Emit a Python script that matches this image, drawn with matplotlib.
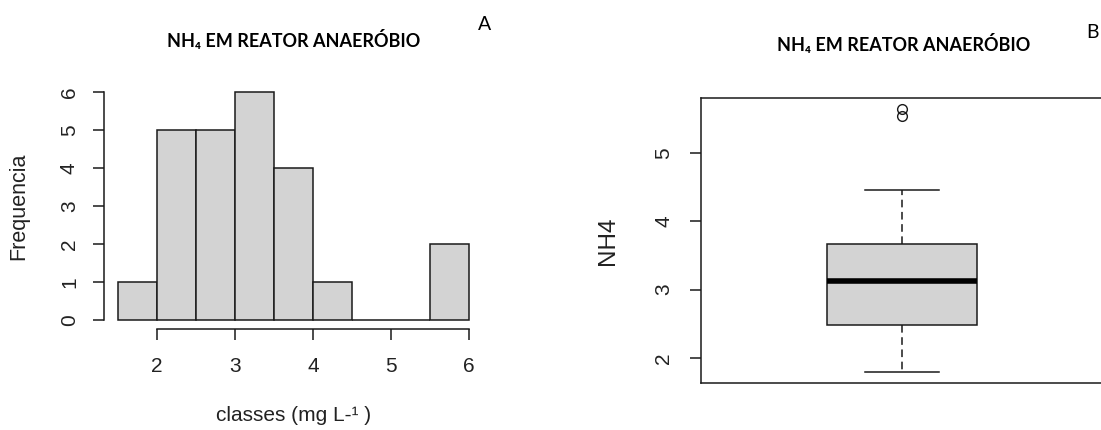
import matplotlib
matplotlib.use("Agg")
import matplotlib.pyplot as plt
import numpy as np

# --- data -------------------------------------------------------------
bin_edges = [1.5, 2.0, 2.5, 3.0, 3.5, 4.0, 4.5, 5.0, 5.5, 6.0]
bin_counts = [1, 5, 5, 6, 4, 1, 0, 0, 2]
hist_xticks = [2, 3, 4, 5, 6]
hist_yticks = [0, 1, 2, 3, 4, 5, 6]

box_whislo = 1.79
box_q1 = 2.49
box_med = 3.12
box_q3 = 3.66
box_whishi = 4.46
box_fliers = [5.54, 5.64]
box_yticks = [2, 3, 4, 5]

title_text = "NH\u2084 EM REATOR ANAERÓBIO"

# --- styling ------------------------------------------------------------
W, H = 1101, 430
fig = plt.figure(figsize=(W / 100, H / 100), dpi=100)
axis_font = ["Liberation Sans", "DejaVu Sans"]
title_font = ["Lato", "Noto Sans", "DejaVu Sans"]
fs = 15
fill = "#D3D3D3"
ink = "#1a1a1a"
text_col = "#222222"


def px_axes(left, right, top, bottom):
    return fig.add_axes([left / W, 1 - bottom / H, (right - left) / W, (bottom - top) / H])


def style_ticks(ax):
    ax.tick_params(direction="out", length=8, width=1.1, color=ink,
                   labelsize=fs, labelcolor=text_col)
    for lab in ax.get_xticklabels() + ax.get_yticklabels():
        lab.set_family(axis_font)
    for lab in ax.get_yticklabels():
        lab.set_rotation(90)
        lab.set_va("center")


# --- histogram --------------------------------------------------------
ax1 = px_axes(104, 483, 83, 329)
lefts = np.array(bin_edges[:-1])
widths = np.diff(bin_edges)
ax1.bar(lefts, bin_counts, width=widths, align="edge", color=fill,
        edgecolor=ink, linewidth=1.1)
ax1.set_xlim(1.32, 6.18)
ax1.set_ylim(-0.24, 6.24)
for s in ("top", "right"):
    ax1.spines[s].set_visible(False)
ax1.spines["left"].set_bounds(0, 6)
ax1.spines["bottom"].set_bounds(2, 6)
for s in ("left", "bottom"):
    ax1.spines[s].set_linewidth(1.1)
    ax1.spines[s].set_color(ink)
ax1.set_xticks(hist_xticks)
ax1.set_yticks(hist_yticks)
style_ticks(ax1)
ax1.tick_params(axis="x", pad=12)
ax1.tick_params(axis="y", pad=10)
ax1.set_ylabel("Frequencia", fontsize=15.5, family=axis_font, color=text_col)
ax1.yaxis.set_label_coords(-0.224, 0.5)
ax1.yaxis.label.set_va("center")
ax1.set_xlabel("classes (mg L-\u00b9 )", fontsize=15, family=axis_font, color=text_col)
ax1.xaxis.set_label_coords(0.5, -0.353)
ax1.xaxis.label.set_va("center")

# --- boxplot -----------------------------------------------------------
ax2 = px_axes(701, 1103, 98, 383)
stats = [dict(whislo=box_whislo, q1=box_q1, med=box_med, q3=box_q3,
              whishi=box_whishi, fliers=box_fliers)]
ax2.bxp(stats, positions=[1], widths=0.373, capwidths=0.1865,
        patch_artist=True, manage_ticks=False,
        boxprops=dict(facecolor=fill, edgecolor=ink, linewidth=1.1),
        medianprops=dict(color="black", linewidth=4, solid_capstyle="butt"),
        whiskerprops=dict(color=ink, linewidth=1.1, linestyle=(0, (5, 3))),
        capprops=dict(color=ink, linewidth=1.1),
        flierprops=dict(marker="o", markersize=7, markerfacecolor="none",
                        markeredgecolor=ink, markeredgewidth=1.0))
ax2.set_xlim(0.5, 1.5)
ax2.set_ylim(1.636, 5.80)
ax2.set_xticks([])
ax2.set_yticks(box_yticks)
for s in ax2.spines.values():
    s.set_linewidth(1.1)
    s.set_color(ink)
style_ticks(ax2)
ax2.tick_params(axis="y", pad=12)
ax2.set_ylabel("NH4", fontsize=17.5, family=axis_font, color=text_col)
ax2.yaxis.set_label_coords(-0.231, 0.5)
ax2.yaxis.label.set_va("center")

# --- titles and panel letters ---------------------------------------
fig.text(294 / W, 1 - 40 / H, title_text, ha="center", va="center",
         fontsize=13, fontweight="bold", family=title_font, color="black")
fig.text(904 / W, 1 - 44 / H, title_text, ha="center", va="center",
         fontsize=13, fontweight="bold", family=title_font, color="black")
fig.text(485 / W, 1 - 25 / H, "A", ha="center", va="center",
         fontsize=14, family=title_font, color="black")
fig.text(1099 / W, 1 - 33 / H, "B", ha="right", va="center",
         fontsize=14, family=title_font, color="black")

fig.savefig("out.png", dpi=100)
